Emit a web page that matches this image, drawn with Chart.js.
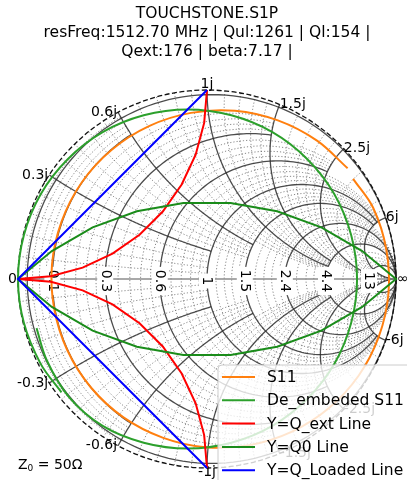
<!DOCTYPE html>
<html><head><meta charset="utf-8">
<script src="https://cdn.jsdelivr.net/npm/chart.js@4.4.0/dist/chart.umd.min.js"></script>
<style>html,body{margin:0;padding:0;background:#fff;}canvas{display:block;}</style>
</head><body>
<canvas id="c" width="407" height="480"></canvas>
<script>
// ---- text ----
const titleLines = ["TOUCHSTONE.S1P", "resFreq:1512.70 MHz | Qul:1261 | Ql:154 |", "Qext:176 | beta:7.17 |"];
const seriesNames = ["S11", "De_embeded S11", "Y=Q_ext Line", "Y=Q0 Line", "Y=Q_Loaded Line"];
const seriesColors = ["#ff7f0e", "#2ca02c", "#ff0000", "#1a8c1a", "#0000ff"];
// ---- tick labels (normalised resistance / reactance) ----
const realTicks = [0.1, 0.3, 0.6, 1, 1.5, 2.4, 4.4, 13];
const imagTicks = [0.3, 0.6, 1, 1.5, 2.5, 6];
// ---- series (reflection coefficient, real / imaginary) ----
const s11Re = [0.744, 0.582, 0.375, 0.148, -0.085, -0.307, -0.504, -0.662, -0.769, -0.820, -0.809, -0.739, -0.614, -0.442, -0.235, -0.008, 0.225, 0.447, 0.644, 0.802, 0.909, 0.960, 0.949, 0.879, 0.773];
const s11Im = [0.586, 0.732, 0.839, 0.890, 0.879, 0.809, 0.684, 0.512, 0.305, 0.078, -0.155, -0.377, -0.574, -0.732, -0.839, -0.890, -0.879, -0.809, -0.684, -0.512, -0.305, -0.078, 0.155, 0.377, 0.530];
const deRe = [-0.902, -0.848, -0.729, -0.552, -0.335, -0.103, 0.129, 0.346, 0.531, 0.674, 0.763, 0.794, 0.763, 0.674, 0.531, 0.346, 0.129, -0.103, -0.335, -0.552, -0.737, -0.880, -0.969, -1.0, -0.969, -0.880, -0.770];
const deIm = [-0.260, -0.430, -0.626, -0.777, -0.866, -0.897, -0.866, -0.777, -0.634, -0.449, -0.232, 0, 0.232, 0.449, 0.634, 0.777, 0.866, 0.897, 0.866, 0.777, 0.634, 0.449, 0.232, 0, -0.232, -0.449, -0.600];
const qextRe = [0, -0.015, -0.060, -0.134, -0.234, -0.357, -0.500, -0.658, -0.826, -1, -0.826, -0.658, -0.500, -0.357, -0.234, -0.134, -0.060, -0.015, 0];
const qextIm = [1, 0.826, 0.658, 0.500, 0.357, 0.234, 0.134, 0.060, 0.015, 0, -0.015, -0.060, -0.134, -0.234, -0.357, -0.500, -0.658, -0.826, -1];
const q0Re = [-1, -0.821, -0.605, -0.371, -0.125, 0.125, 0.371, 0.605, 0.821, 1, 0.821, 0.605, 0.371, 0.125, -0.125, -0.371, -0.605, -0.821, -1];
const q0Im = [0, 0.148, 0.273, 0.358, 0.402, 0.402, 0.358, 0.273, 0.148, 0, -0.148, -0.273, -0.358, -0.402, -0.402, -0.358, -0.273, -0.148, 0];
const qlRe = [0, -1, 0];
const qlIm = [1, 0, -1];

const pts = (re, im) => re.map((v, i) => ({x: v, y: im[i]}));
const seriesData = [pts(s11Re, s11Im), pts(deRe, deIm), pts(qextRe, qextIm), pts(q0Re, q0Im), pts(qlRe, qlIm)];
const tensions = [0.34, 0.34, 0, 0, 0];

const FONT = "'DejaVu Sans', sans-serif";
Chart.defaults.font.family = FONT;

const gridPlugin = {
  id: 'smithGrid',
  beforeDatasetsDraw(chart) {
    const ctx = chart.ctx, xs = chart.scales.x, ys = chart.scales.y;
    const P = (gr, gi) => [xs.getPixelForValue(gr), ys.getPixelForValue(gi)];
    const gam = (r, x) => { const D = (r + 1) * (r + 1) + x * x; return [(r * r + x * x - 1) / D, 2 * x / D]; };
    const limX = r => { for (const v of imagTicks) if (v >= 4 * r) return v; return Infinity; };
    const limR = x => { for (const v of realTicks) if (v >= 2.5 * x) return v; return Infinity; };
    function rCircle(r, X) {
      const c = r / (1 + r), rho = 1 / (1 + r);
      const a = isFinite(X) ? 2 * Math.atan(X / (r + 1)) : Math.PI;
      ctx.beginPath();
      const N = 160;
      for (let i = 0; i <= N; i++) {
        const phi = Math.PI - a + 2 * a * i / N;
        const p = P(c + rho * Math.cos(phi), rho * Math.sin(phi));
        i ? ctx.lineTo(p[0], p[1]) : ctx.moveTo(p[0], p[1]);
      }
      ctx.stroke();
    }
    function xArc(x, R) {
      const tmax = isFinite(R) ? Math.atan(R) : Math.PI / 2 - 1e-5;
      ctx.beginPath();
      const N = 160;
      for (let i = 0; i <= N; i++) {
        const r = Math.tan(tmax * i / N);
        const g = gam(r, x); const p = P(g[0], g[1]);
        i ? ctx.lineTo(p[0], p[1]) : ctx.moveTo(p[0], p[1]);
      }
      ctx.stroke();
    }
    ctx.save();
    // minor grid
    ctx.strokeStyle = 'rgba(100,100,100,0.85)';
    ctx.lineWidth = 0.9;
    ctx.setLineDash([1.2, 2]);
    const rb = [0, ...realTicks];
    for (let i = 0; i < rb.length - 1; i++) {
      for (let k = 1; k < 5; k++) {
        const r = rb[i] + (rb[i + 1] - rb[i]) * k / 5;
        rCircle(r, limX(rb[i + 1]));
      }
    }
    const xb = [0, ...imagTicks];
    for (let i = 0; i < xb.length - 1; i++) {
      for (let k = 1; k < 5; k++) {
        const x = xb[i] + (xb[i + 1] - xb[i]) * k / 5;
        const R = limR(xb[i + 1]);
        xArc(x, R); xArc(-x, R);
      }
    }
    // major grid
    ctx.setLineDash([]);
    ctx.strokeStyle = 'rgba(45,45,45,0.85)';
    ctx.lineWidth = 1.3;
    rCircle(0.025, Infinity);
    for (const r of realTicks) rCircle(r, limX(r));
    for (const x of imagTicks) { xArc(x, limR(x)); xArc(-x, limR(x)); }
    // real axis
    ctx.strokeStyle = '#8c8c8c';
    ctx.lineWidth = 1.6;
    ctx.beginPath();
    let a = P(-1, 0), b = P(1, 0);
    ctx.moveTo(a[0], a[1]); ctx.lineTo(b[0], b[1]); ctx.stroke();
    // outer border
    const o = P(0, 0), rad = xs.getPixelForValue(1) - o[0];
    ctx.strokeStyle = '#111';
    ctx.lineWidth = 1.3;
    ctx.setLineDash([5, 2.5]);
    ctx.beginPath(); ctx.arc(o[0], o[1], rad, 0, Math.PI * 2); ctx.stroke();
    ctx.setLineDash([]);
    // labels
    ctx.font = '14px ' + FONT;
    ctx.fillStyle = '#000';
    ctx.textBaseline = 'middle';
    for (const r of realTicks) {
      const p = P((r - 1) / (r + 1), 0);
      const t = String(r);
      ctx.save();
      ctx.translate(p[0], p[1] + 2);
      ctx.rotate(Math.PI / 2);
      const w = ctx.measureText(t).width;
      ctx.fillStyle = '#fff';
      ctx.fillRect(-w / 2 - 3, -8, w + 6, 16);
      ctx.fillStyle = '#000';
      ctx.textAlign = 'center';
      ctx.fillText(t, 0, 0);
      ctx.restore();
    }
    ctx.textAlign = 'right';
    ctx.fillText('0', P(-1, 0)[0] - 1, P(-1, 0)[1]);
    ctx.textAlign = 'left';
    ctx.fillText('\u221e', P(1, 0)[0] + 1, P(1, 0)[1]);
    for (const v0 of imagTicks) {
      for (const s of [1, -1]) {
        const v = v0 * s;
        const th = Math.PI - 2 * Math.atan(v);
        const gx = Math.cos(th), gy = Math.sin(th);
        const p = P(gx, gy);
        const t = (s < 0 ? '-' : '') + String(v0) + 'j';
        if (Math.abs(gx) < 0.01) {
          ctx.textAlign = 'center';
          ctx.fillText(t, p[0], p[1] + (s > 0 ? -6 : 4));
        } else if (gx < 0) {
          ctx.textAlign = 'right';
          ctx.fillText(t, p[0] - 1, p[1]);
        } else {
          ctx.textAlign = 'left';
          ctx.fillText(t, p[0], p[1]);
        }
      }
    }
    ctx.restore();
  }
};

const overlayPlugin = {
  id: 'overlay',
  afterDraw(chart) {
    const ctx = chart.ctx;
    ctx.save();
    // Z0 label
    ctx.fillStyle = '#000';
    ctx.textBaseline = 'alphabetic';
    ctx.textAlign = 'left';
    ctx.font = '14px ' + FONT;
    let x = 18, y = 469;
    ctx.fillText('Z', x, y); x += ctx.measureText('Z').width;
    ctx.font = '9px ' + FONT;
    ctx.fillText('0', x, y + 2); x += ctx.measureText('0').width;
    ctx.font = '14px ' + FONT;
    ctx.fillText(' = 50\u03a9', x, y);
    // legend
    const lx = 218, ly = 365, lw = 200, lh = 125, rr = 4;
    ctx.beginPath();
    ctx.moveTo(lx + rr, ly); ctx.lineTo(lx + lw, ly); ctx.lineTo(lx + lw, ly + lh);
    ctx.lineTo(lx, ly + lh); ctx.lineTo(lx, ly + rr); ctx.quadraticCurveTo(lx, ly, lx + rr, ly);
    ctx.fillStyle = 'rgba(255,255,255,0.8)';
    ctx.fill();
    ctx.strokeStyle = '#cccccc'; ctx.lineWidth = 1; ctx.stroke();
    ctx.font = '15.5px ' + FONT;
    ctx.textBaseline = 'middle';
    seriesNames.forEach((name, i) => {
      const yy = 377 + 23.3 * i;
      ctx.strokeStyle = seriesColors[i]; ctx.lineWidth = 2;
      ctx.beginPath(); ctx.moveTo(222, yy); ctx.lineTo(255, yy); ctx.stroke();
      ctx.fillStyle = '#000';
      ctx.fillText(name, 267, yy + 1);
    });
    ctx.restore();
  }
};

new Chart(document.getElementById('c'), {
  type: 'scatter',
  data: {
    datasets: seriesData.map((d, i) => ({
      label: seriesNames[i], data: d, showLine: true, borderColor: seriesColors[i],
      backgroundColor: seriesColors[i], borderWidth: 2, pointRadius: 0, fill: false,
      tension: tensions[i], clip: false, order: 5 - i
    }))
  },
  options: {
    responsive: false, animation: false, devicePixelRatio: 1,
    layout: {padding: {left: 18, right: 11, top: 0, bottom: 12}},
    scales: {
      x: {type: 'linear', min: -1, max: 1, display: false},
      y: {type: 'linear', min: -1, max: 1, display: false}
    },
    plugins: {
      legend: {display: false}, tooltip: {enabled: false},
      title: {display: true, text: titleLines, color: '#000',
        font: {family: FONT, size: 15.5, weight: 'normal', lineHeight: 1.2},
        padding: {top: 5, bottom: 29.2}}
    }
  },
  plugins: [gridPlugin, overlayPlugin]
});
</script>
</body></html>
